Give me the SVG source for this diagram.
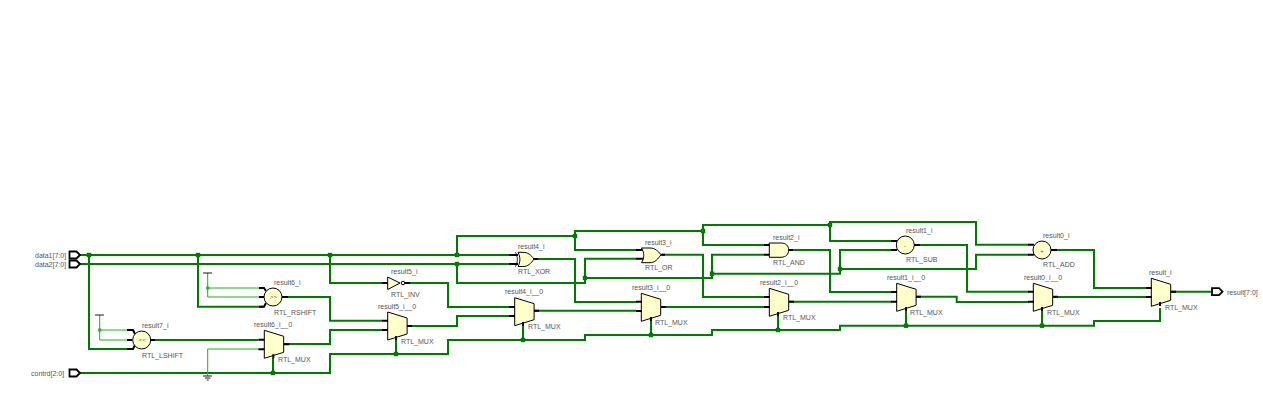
<svg xmlns="http://www.w3.org/2000/svg" width="1263" height="404" viewBox="0 0 1263 404">
<defs>
<style>
text{font-family:"Liberation Sans",Arial,sans-serif;font-size:7px;fill:#555;opacity:.99}
.w{fill:none;stroke:#007a00;stroke-width:2;stroke-linejoin:miter}
.t{fill:none;stroke:#1fb01f;stroke-width:1}
.s{fill:none;stroke:#000;stroke-width:2}
.th{fill:none;stroke:#000;stroke-width:.9}
.c{fill:#ffffcc;stroke:#000;stroke-width:1}
.p{fill:#fff;stroke:#000;stroke-width:1.800}
.j{fill:#007a00}
.jt{fill:#1fb01f}
</style>
<polygon id="mux" class="c" points="0,0 19.4,6 19.4,22 0,28"/>
<path id="muxstub" class="s" d="M-6 9.4H0M-6 19H0M19.4 14H25M9 24V28"/>
<rect id="dot" class="j" x="-2.200" y="-2.200" width="4.400" height="4.400"/>
<path id="port" class="p" d="M0 -3.500H7L10.500 0L7 3.500H0Z"/>
</defs>
<g id="connectors">
<path class="w" d="M80 255H514M80 264H514"/>
<path class="w" d="M89 255V349H132"/>
<path class="w" d="M198 255V306.700H263"/>
<path class="w" d="M330 255V283H382"/>
<path class="w" d="M80 373H330V354H448V340H585V335H712V330H840V325.700H1094V321H1160V308"/>
<path class="w" d="M273 358V373M396 340V354M523 325V340M651 321V335M778 316V330M906 311V325.700M1042 311V325.700"/>
<path class="w" d="M150 340H258"/>
<path class="w" d="M282 297H330V320.700H382"/>
<path class="w" d="M284 344H330V330H382"/>
<path class="w" d="M406 326H457V316H510"/>
<path class="w" d="M410 283H448V307H510"/>
<path class="w" d="M457 255V236H575V250H636"/>
<path class="w" d="M575 236V231H703V245H764"/>
<path class="w" d="M703 231V225H830V241H892"/>
<path class="w" d="M830 225V222H976V244.700H1029"/>
<path class="w" d="M457 264V283H585V258.700H636"/>
<path class="w" d="M585 278H712V254.700H764"/>
<path class="w" d="M712 273.700H840V250H892"/>
<path class="w" d="M840 269H976V254.700H1029"/>
<path class="w" d="M535 259H575V302H636"/>
<path class="w" d="M534 310.700H636"/>
<path class="w" d="M662 254.700H703V297H764"/>
<path class="w" d="M662 307H764"/>
<path class="w" d="M790 250H830V292H892"/>
<path class="w" d="M789 301.700H892"/>
<path class="w" d="M915 245H967V291.700H1029"/>
<path class="w" d="M916 296.700H956.700V302H1029"/>
<path class="w" d="M1052 250H1094V288H1147"/>
<path class="w" d="M1053 297H1147"/>
<path class="w" d="M1171 291.700H1211"/>
<path class="t" d="M99.700 315V340H131M99.700 330H131"/>
<path class="t" d="M207.700 273V297H263M207.700 288H263"/>
<path class="t" d="M258 349H207.700V376"/>
<path class="th" d="M95 315H104M203 273H212M203 376H212M205 378H210.500M206.700 380H208.700"/>
<use href="#dot" x="89" y="255"/><use href="#dot" x="198" y="255"/><use href="#dot" x="330" y="255"/><use href="#dot" x="457" y="255"/><use href="#dot" x="457" y="264"/>
<use href="#dot" x="575" y="236"/><use href="#dot" x="585" y="278"/><use href="#dot" x="703" y="231"/><use href="#dot" x="712" y="273.700"/><use href="#dot" x="830" y="225"/><use href="#dot" x="840" y="269"/>
<use href="#dot" x="273" y="373"/><use href="#dot" x="396" y="354"/><use href="#dot" x="523" y="340"/><use href="#dot" x="651" y="335"/><use href="#dot" x="778" y="330"/><use href="#dot" x="906" y="325.700"/><use href="#dot" x="1042" y="325.700"/>
<rect class="jt" x="98.200" y="328.500" width="3" height="3"/><rect class="jt" x="206.200" y="286.500" width="3" height="3"/>
</g>
<g id="data1"><use href="#port" x="69.500" y="255"/><text x="35" y="258">data1[7:0]</text></g>
<g id="data2"><use href="#port" x="69.500" y="264"/><text x="35" y="267">data2[7:0]</text></g>
<g id="contrd"><use href="#port" x="69.500" y="373"/><text x="31" y="376">contrd[2:0]</text></g>
<g id="result_out"><use href="#port" x="1212" y="291.700"/><text x="1227" y="294.500">result[7:0]</text></g>
<g id="result7_i">
<path class="s" d="M127 330H133L135 334M127 340H132M127 349H133L135 345M150 340H155"/>
<circle class="c" cx="141.700" cy="340" r="9"/><text x="138.800" y="342" style="font-size:6px">&lt;&lt;</text>
<text x="142" y="328">result7_i</text><text x="142" y="357.500">RTL_LSHIFT</text></g>
<g id="result6_i">
<path class="s" d="M259 288H264L266 291M259 297H264M259 306.700H264L266 303M282 297H288"/>
<circle class="c" cx="273" cy="297" r="9"/><text x="270" y="299" style="font-size:6px">&gt;&gt;</text>
<text x="274" y="285">result6_i</text><text x="274" y="314.500">RTL_RSHIFT</text></g>
<g id="result6_i__0"><use href="#mux" x="264.300" y="330.300"/><use href="#muxstub" x="264.300" y="330.300"/><text x="254" y="327">result6_i__0</text><text x="278" y="362">RTL_MUX</text></g>
<g id="result5_i">
<path class="s" d="M382 283H388M405 283H410"/>
<polygon class="c" points="387.700,277 400,283 387.700,289.500"/><circle class="c" cx="403" cy="283" r="1.800"/>
<text x="391" y="274">result5_i</text><text x="391" y="297">RTL_INV</text></g>
<g id="result5_i__0"><use href="#mux" x="387.700" y="312"/><path class="s" d="M382 320.700H388M382 330H388M407 326H412M396 336V340"/><text x="378" y="309">result5_i__0</text><text x="401" y="344">RTL_MUX</text></g>
<g id="result4_i">
<path class="s" d="M509 255H518M509 264H518M533 259H538"/>
<path class="c" d="M518 252.300H523C528 252.300 531 255 534 259C531 263.500 528 266.500 523 266.500H518C520.500 262 520.500 257 518 252.300Z"/>
<path class="th" d="M515.500 252.300C518 257 518 262 515.500 266.500"/>
<text x="518" y="249">result4_i</text><text x="518" y="274">RTL_XOR</text></g>
<g id="result4_i__0"><use href="#mux" x="514.700" y="297.700"/><path class="s" d="M509 307H515M509 316H515M534 310.700H539M523 322V326"/><text x="505" y="294">result4_i__0</text><text x="528" y="329">RTL_MUX</text></g>
<g id="result3_i">
<path class="s" d="M636 250H644M636 258.700H644M660 254.700H665"/>
<path class="c" d="M641.500 248H650C655 248 658 251 661 254.700C658 259 655 262.700 650 262.700H641.500C644.500 258 644.500 253 641.500 248Z"/>
<text x="645" y="245">result3_i</text><text x="645" y="269.500">RTL_OR</text></g>
<g id="result3_i__0"><use href="#mux" x="641.300" y="293.300"/><path class="s" d="M636 301.700H642M636 311H642M661 307H666M651 317V321"/><text x="632" y="290">result3_i__0</text><text x="655" y="325">RTL_MUX</text></g>
<g id="result2_i">
<path class="s" d="M764 245H770M764 254.700H770M788 250H793"/>
<path class="c" d="M769.300 243H781C786 243 788.700 246 788.700 250C788.700 254 786 257.300 781 257.300H769.300Z"/>
<text x="773" y="240">result2_i</text><text x="773" y="265">RTL_AND</text></g>
<g id="result2_i__0"><use href="#mux" x="769.300" y="288.300"/><path class="s" d="M764 297H770M764 307H770M789 301.700H794M778 312V316"/><text x="760" y="285">result2_i__0</text><text x="783" y="320">RTL_MUX</text></g>
<g id="result1_i">
<path class="s" d="M891 241H897M891 250H897M914 245H920"/>
<circle class="c" cx="905.300" cy="245" r="9"/><text x="904" y="247.500" style="font-size:6px">-</text>
<text x="906" y="233">result1_i</text><text x="906" y="262">RTL_SUB</text></g>
<g id="result1_i__0"><use href="#mux" x="896.700" y="283.300"/><path class="s" d="M891 292H897M891 301.700H897M916 296.700H921M906 307V311"/><text x="887" y="280">result1_i__0</text><text x="910" y="315">RTL_MUX</text></g>
<g id="result0_i">
<path class="s" d="M1028 244.700H1034M1028 254.700H1034M1051 250H1057"/>
<circle class="c" cx="1042" cy="250" r="9"/><text x="1040.300" y="252.500" style="font-size:6px">+</text>
<text x="1043" y="238">result0_i</text><text x="1043" y="267">RTL_ADD</text></g>
<g id="result0_i__0"><use href="#mux" x="1033.300" y="283.300"/><path class="s" d="M1028 291.700H1034M1028 301.700H1034M1053 296.700H1058M1042 307V311"/><text x="1024" y="280">result0_i__0</text><text x="1047" y="315">RTL_MUX</text></g>
<g id="result_i"><use href="#mux" x="1151.300" y="278.300"/><path class="s" d="M1146 288H1152M1146 297H1152M1171 291.700H1176M1160 302V306"/><text x="1149" y="275">result_i</text><text x="1165" y="310">RTL_MUX</text></g>
</svg>
